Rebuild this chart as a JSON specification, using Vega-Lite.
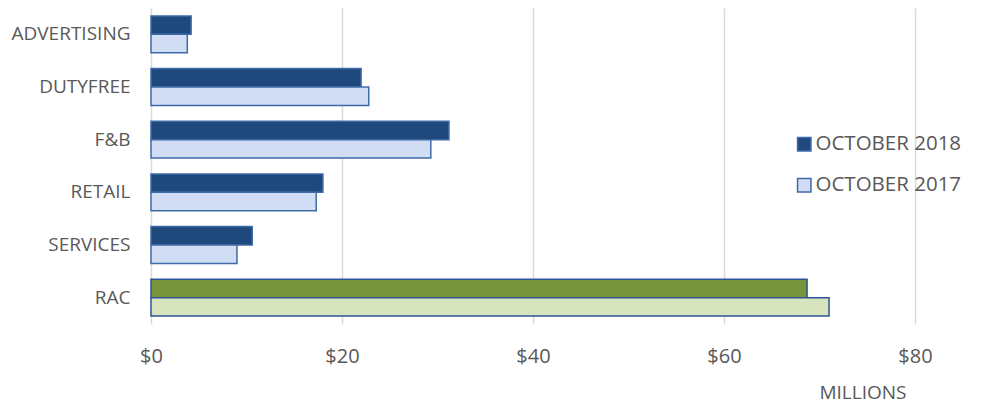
{
  "$schema": "https://vega.github.io/schema/vega-lite/v6.json",
  "width": 764,
  "height": 316,
  "autosize": {"type": "none"},
  "padding": {"left": 151, "top": 8, "right": 71, "bottom": 86},
  "background": "white",
  "config": {
    "view": {"stroke": null},
    "font": "Open Sans"
  },
  "data": {
    "values": [
      {"category": "ADVERTISING", "year": "OCTOBER 2018", "value": 4.2, "group": "main"},
      {"category": "ADVERTISING", "year": "OCTOBER 2017", "value": 3.8, "group": "main"},
      {"category": "DUTYFREE", "year": "OCTOBER 2018", "value": 22.0, "group": "main"},
      {"category": "DUTYFREE", "year": "OCTOBER 2017", "value": 22.8, "group": "main"},
      {"category": "F&B", "year": "OCTOBER 2018", "value": 31.2, "group": "main"},
      {"category": "F&B", "year": "OCTOBER 2017", "value": 29.3, "group": "main"},
      {"category": "RETAIL", "year": "OCTOBER 2018", "value": 18.0, "group": "main"},
      {"category": "RETAIL", "year": "OCTOBER 2017", "value": 17.3, "group": "main"},
      {"category": "SERVICES", "year": "OCTOBER 2018", "value": 10.6, "group": "main"},
      {"category": "SERVICES", "year": "OCTOBER 2017", "value": 9.0, "group": "main"},
      {"category": "RAC", "year": "OCTOBER 2018", "value": 68.7, "group": "rac"},
      {"category": "RAC", "year": "OCTOBER 2017", "value": 71.0, "group": "rac"}
    ]
  },
  "encoding": {
    "y": {
      "field": "category",
      "type": "nominal",
      "sort": ["ADVERTISING", "DUTYFREE", "F&B", "RETAIL", "SERVICES", "RAC"],
      "scale": {"paddingInner": 0.3, "paddingOuter": 0.15},
      "axis": {
        "title": null,
        "domain": false,
        "ticks": false,
        "labelFontSize": 19,
        "labelColor": "#595959",
        "labelPadding": 21,
        "labelFont": "Open Sans"
      }
    },
    "yOffset": {
      "field": "year",
      "type": "nominal",
      "sort": ["OCTOBER 2018", "OCTOBER 2017"],
      "scale": {"paddingInner": 0, "paddingOuter": 0}
    },
    "x": {
      "field": "value",
      "type": "quantitative",
      "scale": {"domain": [0, 80], "nice": false},
      "axis": {
        "values": [0, 20, 40, 60, 80],
        "labelExpr": "'$' + datum.value",
        "labelFlush": false,
        "domain": false,
        "ticks": false,
        "grid": true,
        "gridColor": "#d9d9d9",
        "gridWidth": 1.5,
        "labelFontSize": 20,
        "labelColor": "#595959",
        "labelPadding": 22,
        "title": "MILLIONS",
        "titleFontSize": 19,
        "titleFontWeight": "normal",
        "titleColor": "#595959",
        "titleAnchor": "end",
        "titleAlign": "right",
        "titleBaseline": "middle",
        "titleX": 755,
        "titleY": 68
      }
    }
  },
  "layer": [
    {
      "transform": [{"filter": "datum.group === 'main'"}],
      "mark": {"type": "bar", "stroke": "#3f6aa8", "strokeWidth": 1.5},
      "encoding": {
        "color": {
          "field": "year",
          "type": "nominal",
          "scale": {"domain": ["OCTOBER 2018", "OCTOBER 2017"], "range": ["#1f497d", "#d0ddf4"]},
          "legend": {
            "title": null,
            "orient": "none",
            "legendX": 643,
            "legendY": 126,
            "symbolType": "square",
            "symbolSize": 180,
            "symbolStrokeColor": "#3f6aa8",
            "symbolStrokeWidth": 1.5,
            "labelFontSize": 20.5,
            "labelColor": "#595959",
            "rowPadding": 20,
            "labelOffset": 1
          }
        }
      }
    },
    {
      "transform": [{"filter": "datum.group === 'rac'"}],
      "mark": {"type": "bar", "stroke": "#2f5597", "strokeWidth": 1.5},
      "encoding": {
        "color": {
          "field": "year",
          "type": "nominal",
          "scale": {"domain": ["OCTOBER 2018", "OCTOBER 2017"], "range": ["#77933c", "#d7e4bd"]},
          "legend": null
        }
      }
    }
  ],
  "resolve": {"scale": {"color": "independent"}}
}
